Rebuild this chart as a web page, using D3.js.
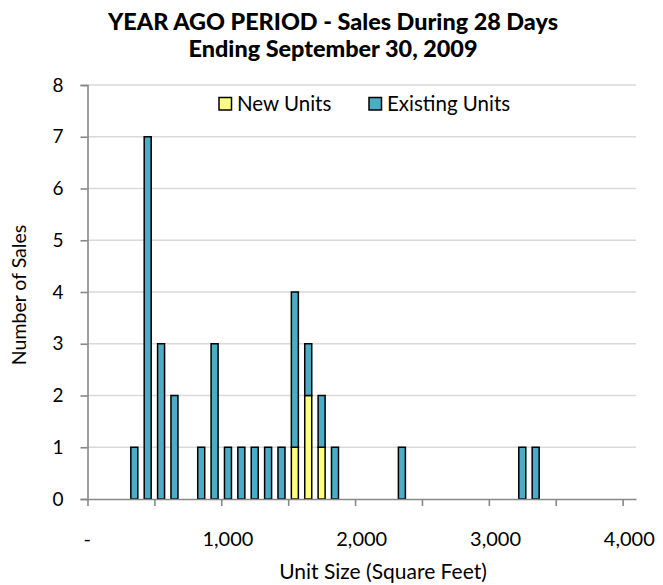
<!DOCTYPE html>
<html>
<head>
<meta charset="utf-8">
<script src="https://cdn.jsdelivr.net/npm/d3@7"></script>
<style>
  body { margin: 0; background: #fff; }
  svg { font-family: "Lato", "Open Sans", sans-serif; }
</style>
</head>
<body>
<svg id="chart" width="663" height="585"></svg>
<script>
// bins of 100 sq ft (bin start), new / existing unit sales
const binStarts = [300, 400, 500, 600, 800, 900, 1000, 1100, 1200, 1300, 1400, 1500, 1600, 1700, 1800, 2300, 3200, 3300]
const newUnits = [0, 0, 0, 0, 0, 0, 0, 0, 0, 0, 0, 1, 2, 1, 0, 0, 0, 0]
const existingUnits = [1, 7, 3, 2, 1, 3, 1, 1, 1, 1, 1, 3, 1, 1, 1, 1, 1, 1]
const seriesNames = ["New Units", "Existing Units"]
const seriesColors = ["#FFFF80", "#4BACC6"]
const yTicks = [0, 1, 2, 3, 4, 5, 6, 7, 8]
const xTicks = [0, 500, 1000, 1500, 2000, 2500, 3000, 3500, 4000]
const xLabelValues = [0, 1000, 2000, 3000, 4000]
const xLabels = ["-", "1,000", "2,000", "3,000", "4,000"]

const svg = d3.select("#chart")
const plotLeft = 87.5, plotRight = 636, plotTop = 85, plotBottom = 499

let x = d3.scaleLinear().domain([0, 4100]).range([plotLeft, plotRight])
let y = d3.scaleLinear().domain([0, 8]).range([plotBottom, plotTop])

// gridlines
svg.append("g")
    .selectAll("line")
    .data(yTicks.slice(1))
    .enter()
    .append("line")
    .attr("x1", plotLeft)
    .attr("x2", plotRight)
    .attr("y1", (d) => y(d))
    .attr("y2", (d) => y(d))
    .attr("stroke", "#d9d9d9")
    .attr("stroke-width", 1.6)

// stacked bars
let stackData = binStarts.map((b, i) => ({ bin: b, n: newUnits[i], e: existingUnits[i] }))
let stacked = d3.stack().keys(["n", "e"])(stackData)
let barW = 7

svg.append("g")
    .selectAll("g")
    .data(stacked)
    .enter()
    .append("g")
    .attr("fill", (d, i) => seriesColors[i])
    .selectAll("rect")
    .data((d) => d.filter((p) => p[1] > p[0]))
    .enter()
    .append("rect")
    .attr("x", (d) => x(d.data.bin + 50) - barW / 2)
    .attr("width", barW)
    .attr("y", (d) => y(d[1]))
    .attr("height", (d) => y(d[0]) - y(d[1]))
    .attr("stroke", "#000")
    .attr("stroke-width", 1.5)

// y axis
let yAxis = svg.append("g").attr("transform", "translate(" + plotLeft + ",0)")
    .call(d3.axisLeft(y).tickValues(yTicks).tickSize(7).tickPadding(17))
yAxis.select(".domain").attr("stroke", "#888").attr("stroke-width", 1.6)
yAxis.selectAll(".tick line").attr("stroke", "#888").attr("stroke-width", 1.6)
yAxis.selectAll(".tick text").attr("font-size", 19).attr("fill", "#000").attr("font-family", "Lato")

// x axis
let xAxis = svg.append("g").attr("transform", "translate(0," + plotBottom + ")")
    .call(d3.axisBottom(x).tickValues(xTicks).tickSize(7).tickSizeOuter(0).tickFormat(""))
xAxis.select(".domain").attr("stroke", "#888").attr("stroke-width", 1.6)
xAxis.selectAll(".tick line").attr("stroke", "#888").attr("stroke-width", 1.6)

// category labels sit in the middle of their 100 sq ft bin
svg.append("g")
    .selectAll("text")
    .data(xLabels)
    .enter()
    .append("text")
    .attr("x", (d, i) => x(xLabelValues[i] + 50) + (i == 0 ? -7 : 0))
    .attr("y", 546)
    .attr("text-anchor", "middle")
    .attr("font-size", 20)
    .text((d) => d)

// axis titles
svg.append("text")
    .attr("x", 383)
    .attr("y", 579)
    .attr("text-anchor", "middle")
    .attr("font-size", 21)
    .text("Unit Size (Square Feet)")

svg.append("text")
    .attr("transform", "translate(26,295) rotate(-90)")
    .attr("text-anchor", "middle")
    .attr("font-size", 19.5)
    .text("Number of Sales")

// title
let title = svg.append("text")
    .attr("text-anchor", "middle")
    .attr("font-size", 23.4)
    .attr("font-weight", 900)
title.append("tspan").attr("x", 333).attr("y", 30).text("YEAR AGO PERIOD - Sales During 28 Days")
title.append("tspan").attr("x", 333).attr("y", 57).text("Ending September 30, 2009")

// legend
let legendX = [219, 369]
let legend = svg.append("g")
    .selectAll("g")
    .data(seriesNames)
    .enter()
    .append("g")
    .attr("transform", (d, i) => "translate(" + legendX[i] + ",97.5)")
legend.append("rect")
    .attr("width", 12.5)
    .attr("height", 12.5)
    .attr("fill", (d, i) => seriesColors[i])
    .attr("stroke", "#000")
    .attr("stroke-width", 1.5)
legend.append("text")
    .attr("x", 18)
    .attr("y", 13.5)
    .attr("font-size", 20.5)
    .text((d) => d)
</script>
</body>
</html>
